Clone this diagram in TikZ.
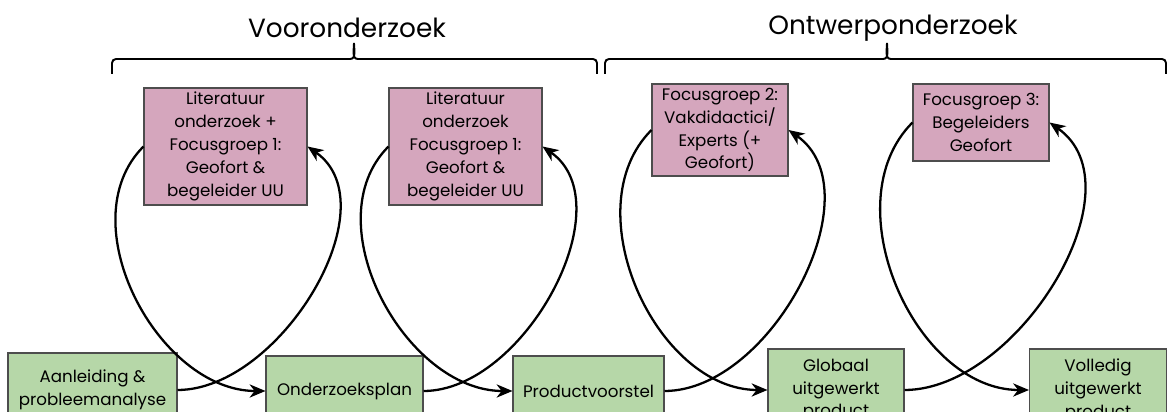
\documentclass[tikz,border=0pt]{standalone}
\usepackage{fontspec}
\setmainfont{Poppins}
\usetikzlibrary{arrows.meta}
\definecolor{roze}{HTML}{D5A6BD}
\definecolor{groen}{HTML}{B6D7A8}
\definecolor{rand}{HTML}{4D4D4D}
% accolade: linker eind, punt, rechter eind
\newcommand{\accolade}[3]{%
	\draw[accolade] (#1,338) -- (#1,349) to[out=90,in=180] (#1+4,353) -- (#2-4,353)
		to[out=0,in=-90] (#2,369) to[out=-90,in=180] (#2+4,353) -- (#3-4,353)
		to[out=0,in=90] (#3,349) -- (#3,338);}

\tikzset{
  stap/.style={draw=rand, fill=groen, line width=0.6pt, align=center, inner sep=2pt,
    font=\fontsize{9.5}{13}\selectfont},
  focus/.style={stap, fill=roze},
  fase/.style={font=\fontsize{15}{18}\selectfont},
  accolade/.style={line width=1.1pt},
  lus/.style={->, line width=1.3pt}
}

\begin{document}
\begin{tikzpicture}[x=0.02cm, y=0.02cm, >={Stealth[length=9pt, width=7.5pt, inset=2.8pt]}]
	\useasboundingbox (0,0) rectangle (1167,412);
	% fases
	\node[fase] (f1) at (347,384) {Vooronderzoek};
	\node[fase] (f2) at (893,384) {Ontwerponderzoek};
	\accolade{112}{354}{597}
	\accolade{605}{887}{1166}
	% stappen
	\node[stap, minimum width=3.38cm, minimum height=1.48cm] (g1) at (92.5,22) {Aanleiding \&\\ probleemanalyse};
	\node[stap, minimum width=3.14cm, minimum height=1.40cm] (g2) at (344.5,21) {Onderzoeksplan};
	\node[stap, minimum width=3.02cm, minimum height=1.40cm] (g3) at (588.5,21) {Productvoorstel};
	\node[stap, minimum width=2.72cm, minimum height=1.64cm] (g4) at (836,22) {Globaal\\ uitgewerkt\\ product};
	\node[stap, minimum width=2.74cm, minimum height=1.64cm] (g5) at (1098,22) {Volledig\\ uitgewerkt\\ product};
	% focusgroepen
	\node[focus, minimum width=3.26cm, minimum height=2.34cm] (p1) at (225.5,265.5) {Literatuur\\ onderzoek +\\ Focusgroep 1:\\ Geofort \&\\ begeleider UU};
	\node[focus, minimum width=3.06cm, minimum height=2.34cm] (p2) at (465.5,265.5) {Literatuur\\ onderzoek\\ Focusgroep 1:\\ Geofort \&\\ begeleider UU};
	\node[focus, minimum width=2.72cm, minimum height=1.84cm] (p3) at (720,282) {Focusgroep 2:\\ Vakdidactici/\\ Experts (+\\ Geofort)};
	\node[focus, minimum width=2.72cm, minimum height=1.54cm] (p4) at (981,289.5) {Focusgroep 3:\\ Begeleiders\\ Geofort};
	% lussen
	\draw[lus] (g1.east) to[out=0, in=-35, looseness=0.95] (p1.east);
	\draw[lus] (p1.west) to[out=225, in=180] (g2.west);
	\draw[lus] (g2.east) to[out=0, in=-35, looseness=0.95] (p2.east);
	\draw[lus] (p2.west) to[out=225, in=180] (g3.west);
	\draw[lus] (g3.east) to[out=0, in=-35, looseness=0.95] (p3.east);
	\draw[lus] (p3.west) to[out=225, in=180] (g4.west);
	\draw[lus] (g4.east) to[out=0, in=-35, looseness=0.95] (p4.east);
	\draw[lus] (p4.west) to[out=225, in=180] (g5.west);
\end{tikzpicture}
\end{document}
